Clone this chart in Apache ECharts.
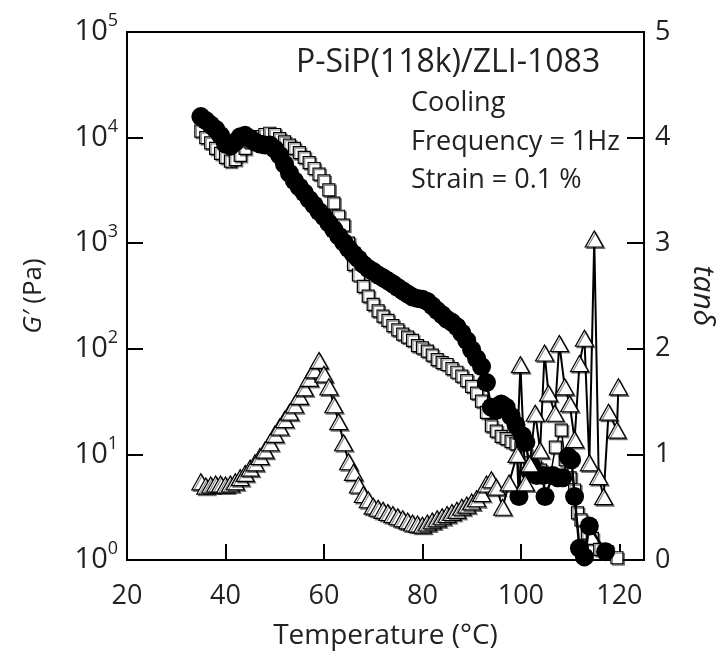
<!DOCTYPE html>
<html><head><meta charset="utf-8">
<script src="https://cdn.jsdelivr.net/npm/echarts@6/dist/echarts.min.js"></script>
<style>html,body{margin:0;padding:0;background:#fff}#c{width:726px;height:656px}</style>
</head><body><div id="c"></div>
<script>
const FONT = '"Open Sans", sans-serif';
const xTickLabels = [20, 40, 60, 80, 100, 120];
const yRightTickLabels = [0, 1, 2, 3, 4, 5];

// Filled circles: G' (Pa), left axis
const tempCircles = [35,36,37,38,39,40,41,42,43,44,45,46,47,48,49,50,51,52,53,54,55,56,57,58,59,60,61,62,63,64,65,66,67,68,69,70,71,72,73,74,75,76,77,78,79,80,81,82,83,84,85,86,87,88,89,90,91,92,93,94,95,96,97,98,99,99.6,100.3,101,101.9,102.3,103.2,104.5,104.9,106.5,107.5,108.5,109.6,110.3,110.9,111.9,112.9,113.9,117.2];
const gCircles = [15800,14500,13200,12000,10500,8700,8300,9100,10200,10500,9800,9100,8700,8500,8500,7800,6800,5600,4600,3900,3400,3000,2600,2300,2000,1780,1550,1350,1170,1020,890,790,710,630,575,540,500,470,440,410,380,355,330,310,300,295,280,255,230,210,190,178,162,141,120,98,81,68,48,28,26,30,28,23,19,4.0,15,13,6.8,7.6,6.3,6.3,4.0,6.3,6.0,6.0,9.5,8.9,4.0,1.29,1.07,2.1,1.2];

// Open squares: left axis (Pa)
const tempSquares = [35,36,37,38,39,40,41,42,43,44,45,46,47,48,49,50,51,52,53,54,55,56,57,58,59,60,61,62,63,64,65,66,67,68,69,70,71,72,73,74,75,76,77,78,79,80,81,82,83,84,85,86,87,88,89,90,91,92,93,94,95,96,97,98,99,100,101,102,103,104,105,106,107,108.2,109,110,110.9,111.5,112.2,113.5,114.5,116,117.5,119.5];
const gSquares = [11500,10000,8900,7900,7100,6500,6000,6200,6800,7900,9100,9800,10200,10700,11000,10700,9800,9100,8500,7900,7200,6500,5800,5100,4500,3900,3200,2400,1800,1480,1000,630,500,390,316,263,229,204,186,166,151,138,129,120,107,102,95,87,79,74,71,65,60,55,50,44,38,32,25,18.6,16.6,14.8,14.1,13.2,12.6,11.5,10,8.3,7.6,7.1,6.6,6.3,11.7,17,8.9,6.0,4.6,2.8,2.4,1.8,1.6,1.26,1.2,1.05];

// Open triangles: tan delta, right axis
const tempTriangles = [35,36,37,38,39,40,41,42,43,44,45,46,47,48,49,50,51,52,53,54,55,56,57,58,59,60,61,62,63,64,65,66,67,68,69,70,71,72,73,74,75,76,77,78,79,80,81,82,83,84,85,86,87,88,89,90,91,92,93,94,95,96.3,97.6,99.2,99.9,100.9,101.8,102.9,103.9,104.8,105.6,106.9,107.8,108.9,109.9,110.9,111.9,112.9,113.9,114.9,115.8,116.8,117.8,119.5,119.8];
const tanTriangles = [0.74,0.70,0.71,0.72,0.72,0.71,0.72,0.74,0.78,0.82,0.87,0.92,0.98,1.04,1.11,1.19,1.26,1.33,1.40,1.47,1.55,1.63,1.72,1.80,1.89,1.76,1.64,1.47,1.31,1.11,0.93,0.83,0.71,0.62,0.57,0.51,0.49,0.47,0.45,0.43,0.41,0.39,0.37,0.35,0.34,0.33,0.35,0.37,0.39,0.41,0.43,0.45,0.47,0.50,0.52,0.55,0.58,0.63,0.72,0.76,0.69,0.50,0.73,1.00,1.85,0.73,0.91,1.39,1.04,1.96,1.58,1.39,2.05,1.64,1.48,1.14,1.86,2.10,0.92,3.04,0.79,0.60,1.40,1.23,1.64];

const pairs = (xs, ys) => xs.map((x, i) => [x, ys[i]]);

const chart = echarts.init(document.getElementById('c'), null, {renderer: 'canvas'});
chart.setOption({
  animation: false,
  backgroundColor: '#fff',
  grid: {left: 127, right: 71, top: 32, bottom: 96, show: true, borderColor: '#000', borderWidth: 2, backgroundColor: 'transparent'},
  xAxis: {
    type: 'value', min: 20, max: 125, interval: 20,
    name: 'Temperature (°C)', nameLocation: 'middle', nameGap: 62,
    nameTextStyle: {fontFamily: FONT, fontSize: 28, color: '#222'},
    axisLine: {show: true, lineStyle: {color: '#000', width: 2}},
    axisTick: {show: true, inside: true, length: 16, lineStyle: {color: '#000', width: 2}},
    axisLabel: {margin: 23, fontFamily: FONT, fontSize: 27, color: '#222',
      formatter: v => xTickLabels.includes(v) ? String(v) : ''},
    splitLine: {show: false}
  },
  yAxis: [{
    type: 'log', logBase: 10, min: 1, max: 100000,
    name: '{i|G′} (Pa)', nameLocation: 'middle', nameGap: 80, nameRotate: 90,
    nameTextStyle: {fontFamily: FONT, fontSize: 26, color: '#222', rich: {i: {fontFamily: FONT, fontSize: 26, fontStyle: 'italic', color: '#222'}}},
    axisLine: {show: true, lineStyle: {color: '#000', width: 2}},
    axisTick: {show: true, inside: true, length: 16, lineStyle: {color: '#000', width: 2}},
    minorTick: {show: false},
    axisLabel: {margin: 9, formatter: v => '{b|10}{s|' + Math.round(Math.log10(v)) + '}',
      rich: {b: {fontFamily: FONT, fontSize: 29, color: '#222', lineHeight: 40},
             s: {fontFamily: FONT, fontSize: 18, color: '#222', verticalAlign: 'top', lineHeight: 18}}},
    splitLine: {show: false}
  }, {
    type: 'value', min: 0, max: 5, interval: 1, position: 'right',
    name: 'tanδ', nameLocation: 'middle', nameGap: 44, nameRotate: -90,
    nameTextStyle: {fontFamily: FONT, fontSize: 30, fontStyle: 'italic', color: '#222'},
    axisLine: {show: true, lineStyle: {color: '#000', width: 2}},
    axisTick: {show: true, inside: true, length: 17, lineStyle: {color: '#000', width: 2}},
    axisLabel: {margin: 11, fontFamily: FONT, fontSize: 27, color: '#222',
      formatter: v => yRightTickLabels.includes(v) ? String(v) : ''},
    splitLine: {show: false}
  }],
  series: [{
    name: 'squares', type: 'line', yAxisIndex: 0, z: 2,
    data: pairs(tempSquares, gSquares),
    symbol: 'rect', symbolSize: 12, showAllSymbol: true,
    lineStyle: {color: '#000', width: 1.5},
    itemStyle: {color: '#fff', borderColor: '#000', borderWidth: 1.2, shadowColor: 'rgba(0,0,0,0.45)', shadowOffsetX: 1.5, shadowOffsetY: 1.5, shadowBlur: 0}
  }, {
    name: 'circles', type: 'line', yAxisIndex: 0, z: 3,
    data: pairs(tempCircles, gCircles),
    symbol: 'circle', symbolSize: 19, showAllSymbol: true,
    lineStyle: {color: '#000', width: 2.5},
    itemStyle: {color: '#000', borderColor: '#000', borderWidth: 0}
  }, {
    name: 'triangles', type: 'line', yAxisIndex: 1, z: 4,
    data: pairs(tempTriangles, tanTriangles),
    symbol: 'triangle', symbolSize: [18, 16], showAllSymbol: true,
    lineStyle: {color: '#000', width: 2},
    itemStyle: {color: '#fff', borderColor: '#000', borderWidth: 1.2, shadowColor: 'rgba(0,0,0,0.45)', shadowOffsetX: 1.5, shadowOffsetY: 1.5, shadowBlur: 0}
  }],
  graphic: [
    {type: 'text', x: 296, y: 63, z: 10, style: {text: 'P-SiP(118k)/ZLI-1083', font: '32px ' + FONT, fill: '#222', align: 'left', verticalAlign: 'middle'}},
    {type: 'text', x: 411, y: 103, z: 10, style: {text: 'Cooling', font: '27px ' + FONT, fill: '#222', align: 'left', verticalAlign: 'middle'}},
    {type: 'text', x: 411, y: 142, z: 10, style: {text: 'Frequency = 1Hz', font: '27px ' + FONT, fill: '#222', align: 'left', verticalAlign: 'middle'}},
    {type: 'text', x: 411, y: 180, z: 10, style: {text: 'Strain = 0.1 %', font: '27px ' + FONT, fill: '#222', align: 'left', verticalAlign: 'middle'}}
  ]
});
</script></body></html>
